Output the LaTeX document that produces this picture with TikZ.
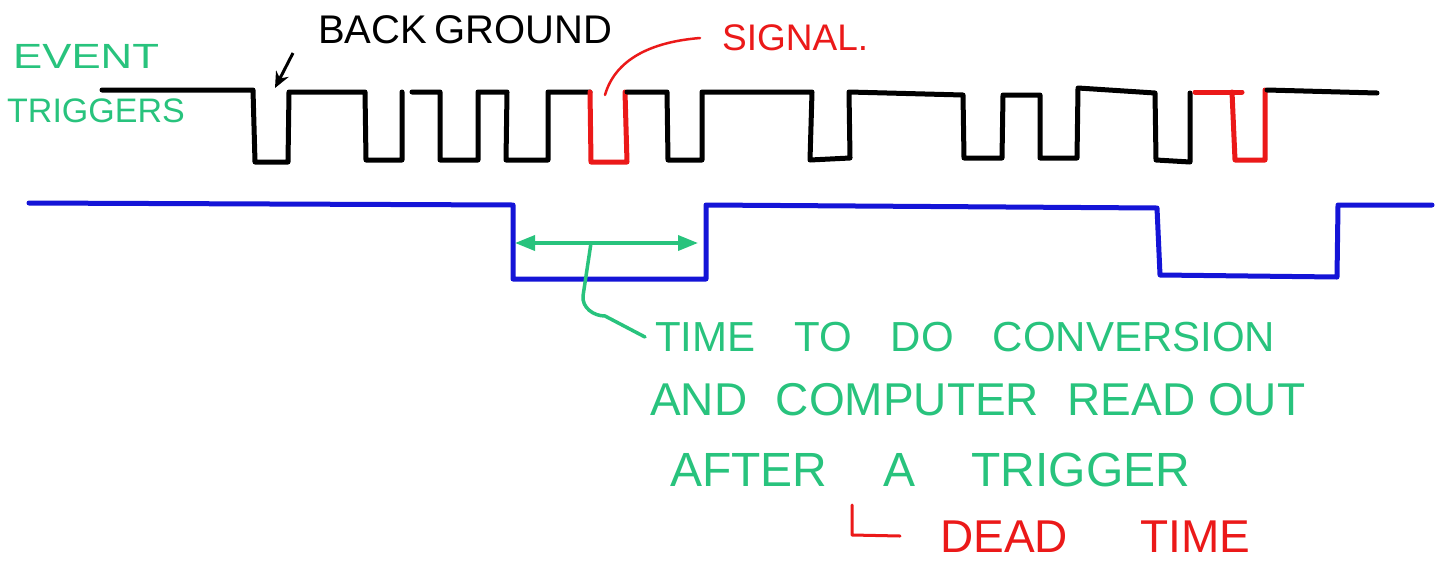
\documentclass[tikz,border=0pt]{standalone}
\usepackage{fontspec}
\setmainfont{Liberation Sans}
\usetikzlibrary{arrows.meta}
\definecolor{mygreen}{RGB}{40,195,125}
\definecolor{myred}{RGB}{235,25,25}
\definecolor{myblue}{RGB}{20,20,215}
\tikzset{
  wave/.style={line width=5pt, line join=round, line cap=round},
  lbl/.style={inner sep=0pt, anchor=west},
  gtxt/.style={lbl, text=mygreen},
  rtxt/.style={lbl, text=myred},
}
\begin{document}
\begin{tikzpicture}[x=1pt,y=-1pt]
\useasboundingbox[fill=white] (0,0) rectangle (1437,563);

% labels
\node[gtxt] (event) at (13,56) {\fontsize{35}{38}\selectfont\scalebox{1.25}[1]{EVENT}};
\node[gtxt] (trig) at (7,111) {\fontsize{34}{37}\selectfont TRIGGERS};
\node[lbl] (bg) at (318,30) {\fontsize{40}{44}\selectfont\hbox to 294pt{BACK\hfill GROUND}};
\node[rtxt] (signal) at (722,38) {\fontsize{37}{40}\selectfont SIGNAL.};
\node[gtxt] (l1) at (655,337) {\fontsize{42}{46}\selectfont\hbox to 620pt{TIME\hfill TO\hfill DO\hfill CONVERSION}};
\node[gtxt] (l2) at (650,400) {\fontsize{46}{50}\selectfont\hbox to 655pt{AND\hfill COMPUTER\hfill READ OUT}};
\node[gtxt] (l3) at (670,470) {\fontsize{48}{52}\selectfont\hbox to 520pt{AFTER\hfill A\hfill TRIGGER}};
\node[rtxt] (dead) at (940,537) {\fontsize{46}{50}\selectfont\hbox to 310pt{DEAD\hfill TIME}};

% event trigger pulse train (black)
\draw[wave] (102,90) -- (253,90) -- (255,162) -- (288,162) -- (289,92) -- (365,92)
  -- (366,160) -- (402,160) -- (402,92);
\draw[wave] (412,92) -- (440,92) -- (440,160) -- (478,160) -- (478,92) -- (507,92)
  -- (506,160) -- (548,160) -- (548,92) -- (590,92);
\draw[wave, myred] (590,92) -- (591,162) -- (627,162) -- (625,92);
\draw[wave] (627,92) -- (667,92) -- (668,160) -- (702,160) -- (702,92) -- (812,92)
  -- (810,160) -- (850,158) -- (849,92) -- (963,95) -- (964,158) -- (1002,158)
  -- (1003,95) -- (1040,95) -- (1040,158) -- (1077,158) -- (1078,88) -- (1155,93)
  -- (1156,160) -- (1190,162) -- (1190,93);
\draw[wave, myred] (1195,92) -- (1242,92);
\draw[wave, myred] (1232,92) -- (1235,160) -- (1265,160) -- (1265,90);
\draw[wave] (1267,90) -- (1377,93);

% dead time level (blue)
\draw[wave, myblue] (29,203) -- (513,205) -- (513,279) -- (706,279) -- (706,205)
  -- (1157,208) -- (1160,275) -- (1337,277) -- (1338,205) -- (1432,205);

% background pointer
\coordinate (bgtail) at (293,53);
\coordinate (bgtip) at (275,88);
\draw[line width=3pt, -{Stealth[length=16pt,width=14pt]}] (bgtail) -- (bgtip);

% signal pointer
\coordinate (sigfoot) at (605,95);
\draw[line width=2.5pt, myred, line cap=round] (sigfoot) .. controls (615,60) and (650,42) .. ([xshift=-22pt]signal.west);

% conversion time arrow
\coordinate (aL) at (515,243);
\coordinate (aR) at (698,243);
\coordinate (stem) at (591,243);
\draw[line width=3.5pt, mygreen, {Triangle[length=20pt,width=15pt]}-{Triangle[length=20pt,width=15pt]}] (aL) -- (aR);
\draw[line width=3.5pt, mygreen, line cap=round] (stem) -- (583,296) to[out=-95,in=180] (605,316) -- ([xshift=-10pt]l1.west);

% dead time bracket
\coordinate (dtop) at (852,505);
\draw[line width=3pt, myred, line cap=round, line join=round] (dtop) -- (852,535) -- (900,536);
\end{tikzpicture}
\end{document}
